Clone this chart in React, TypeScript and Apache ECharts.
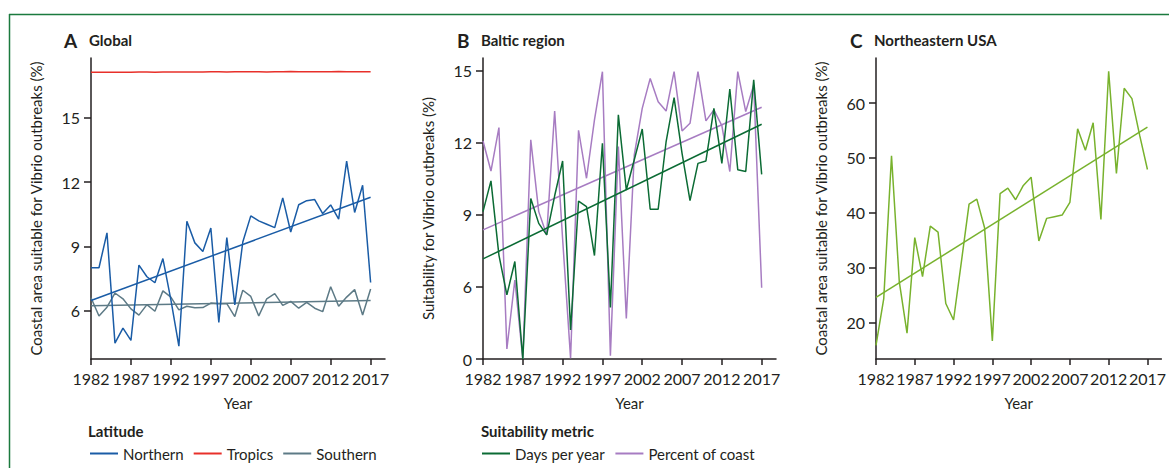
import React, { useEffect, useRef } from "react";
import * as echarts from "echarts";

const years = [1982, 1983, 1984, 1985, 1986, 1987, 1988, 1989, 1990, 1991, 1992, 1993, 1994, 1995, 1996, 1997, 1998, 1999, 2000, 2001, 2002, 2003, 2004, 2005, 2006, 2007, 2008, 2009, 2010, 2011, 2012, 2013, 2014, 2015, 2016, 2017];
const yearTicks = [1982, 1987, 1992, 1997, 2002, 2007, 2012, 2017];

// Panel A: Global
const northern = [8.0, 8.0, 9.63, 4.48, 5.18, 4.61, 8.12, 7.58, 7.3, 8.43, 6.5, 4.34, 10.17, 9.16, 8.76, 9.85, 5.45, 9.41, 6.27, 9.2, 10.42, 10.19, 10.03, 9.87, 11.26, 9.67, 10.94, 11.13, 11.18, 10.53, 10.93, 10.27, 12.98, 10.58, 11.85, 7.31];
const tropics = [17.12, 17.12, 17.13, 17.13, 17.13, 17.13, 17.14, 17.14, 17.13, 17.14, 17.14, 17.14, 17.14, 17.14, 17.14, 17.15, 17.15, 17.14, 17.15, 17.15, 17.15, 17.15, 17.14, 17.15, 17.15, 17.16, 17.15, 17.15, 17.15, 17.15, 17.15, 17.16, 17.15, 17.15, 17.15, 17.15];
const southern = [6.6, 5.75, 6.16, 6.82, 6.55, 6.08, 5.79, 6.28, 5.97, 6.92, 6.63, 6.03, 6.2, 6.13, 6.14, 6.35, 6.32, 6.32, 5.72, 6.95, 6.66, 5.75, 6.55, 6.79, 6.24, 6.43, 6.11, 6.38, 6.11, 5.95, 7.11, 6.2, 6.63, 6.98, 5.79, 7.01];
const northernTrend = [6.47, 11.29];
const southernTrend = [6.22, 6.47];
const aTicks = [6, 9, 12, 15];

// Panel B: Baltic region (axis units as drawn; the bottom tick is labelled "0")
const daysPerYear = [9.14, 10.42, 7.33, 5.67, 7.06, 3.0, 9.69, 8.65, 8.17, 9.8, 11.25, 4.21, 9.58, 9.35, 7.31, 11.99, 5.15, 13.17, 10.04, 11.3, 12.58, 9.24, 9.24, 12.06, 13.89, 11.57, 9.6, 11.15, 11.25, 13.44, 11.15, 14.25, 10.88, 10.81, 14.63, 10.69];
const percentCoast = [12.08, 10.83, 12.64, 3.42, 6.29, 3.0, 12.13, 9.14, 8.17, 13.33, 8.0, 3.03, 12.53, 10.53, 12.96, 14.97, 3.14, 11.85, 4.69, 11.5, 13.44, 14.69, 13.72, 13.33, 14.97, 12.5, 12.82, 14.97, 12.92, 13.38, 12.72, 10.81, 14.97, 13.31, 14.42, 5.97];
const daysTrend = [7.17, 12.78];
const percentTrend = [8.38, 13.49];
const bTicks = [3, 6, 9, 12, 15];
const bTickLabels = ["0", "6", "9", "12", "15"];

// Panel C: Northeastern USA
const northeastUSA = [15.9, 24.4, 50.4, 27.5, 18.1, 35.5, 28.4, 37.6, 36.5, 23.5, 20.5, 31, 41.6, 42.5, 37.3, 16.7, 43.5, 44.5, 42.4, 45.0, 46.5, 34.9, 39.0, 39.3, 39.6, 41.9, 55.3, 51.4, 56.4, 38.8, 65.8, 47.2, 62.7, 60.8, 54.1, 47.9];
const northeastTrend = [24.6, 55.6];
const cTicks = [20, 30, 40, 50, 60];

const FONT = 'Lato, "Open Sans", sans-serif';
const INK = "#231f20";
const C_NORTH = "#1a5ca6";
const C_TROP = "#e8302a";
const C_SOUTH = "#5d7a86";
const C_DAYS = "#0b6b34";
const C_PCT = "#a77cc2";
const C_NE = "#78b22d";

const pairs = (vals: number[]) => vals.map((v, i) => [years[i], v]);
const trend = (ends: number[]) => [[years[0], ends[0]], [years[years.length - 1], ends[1]]];

function xAxis(gridIndex: number) {
  return {
    type: "value",
    gridIndex,
    min: 1982,
    max: 2018.8,
    name: "Year",
    nameLocation: "middle",
    nameGap: 36,
    nameTextStyle: { color: INK, fontSize: 15, fontFamily: FONT },
    axisLine: { lineStyle: { color: INK, width: 1.5 } },
    axisTick: { customValues: yearTicks, length: 6, lineStyle: { color: INK, width: 1.5 } },
    axisLabel: { customValues: yearTicks, color: INK, fontSize: 16, fontFamily: FONT, margin: 11, formatter: (v: number) => String(v) },
    splitLine: { show: false },
  };
}

function yAxis(gridIndex: number, min: number, max: number, ticks: number[], name: string, formatter?: (v: number) => string) {
  return {
    type: "value",
    gridIndex,
    min,
    max,
    name,
    nameLocation: "middle",
    nameGap: 48,
    nameTextStyle: { color: INK, fontSize: 15, fontFamily: FONT },
    axisLine: { show: true, lineStyle: { color: INK, width: 1.5 } },
    axisTick: { show: true, customValues: ticks, length: 7, lineStyle: { color: INK, width: 1.5 } },
    axisLabel: { customValues: ticks, color: INK, fontSize: 16, fontFamily: FONT, margin: 11, formatter: formatter ?? ((v: number) => String(v)) },
    splitLine: { show: false },
  };
}

function line(name: string, data: number[][], color: string, xi: number) {
  return {
    type: "line",
    name,
    xAxisIndex: xi,
    yAxisIndex: xi,
    data,
    symbol: "none",
    lineStyle: { color, width: 1.5 },
    itemStyle: { color },
    silent: true,
  };
}

function title(letter: string, text: string, x: number, x2: number) {
  return [
    { type: "text", x, y: 40, style: { text: letter, fontSize: 19, fontWeight: "bold", fontFamily: FONT, fill: INK, verticalAlign: "middle" } },
    { type: "text", x: x2, y: 40, style: { text, fontSize: 15, fontWeight: "bold", fontFamily: FONT, fill: INK, verticalAlign: "middle" } },
  ];
}

export default function App() {
  const ref = useRef<HTMLDivElement>(null);
  useEffect(() => {
    if (!ref.current) return;
    const chart = echarts.init(ref.current, null, { renderer: "svg" });
    const legendBase = {
      orient: "horizontal",
      top: 446,
      padding: 0,
      icon: "rect",
      itemWidth: 28,
      itemHeight: 2,
      itemGap: 10,
      textStyle: { color: INK, fontSize: 15, fontFamily: FONT },
      selectedMode: false,
    };
    chart.setOption({
      animation: false,
      backgroundColor: "#ffffff",
      textStyle: { fontFamily: FONT },
      grid: [
        { left: 91, top: 58, width: 294, height: 301 },
        { left: 483, top: 58, width: 293, height: 301 },
        { left: 876, top: 58, width: 294, height: 301 },
      ],
      xAxis: [xAxis(0), xAxis(1), xAxis(2)],
      yAxis: [
        yAxis(0, 3.74, 17.79, aTicks, "Coastal area suitable for Vibrio outbreaks (%)"),
        yAxis(1, 3, 15.54, bTicks, "Suitability for Vibrio outbreaks (%)", (v: number) => bTickLabels[bTicks.indexOf(v)] ?? String(v)),
        yAxis(2, 13.4, 68.2, cTicks, "Coastal area suitable for Vibrio outbreaks (%)"),
      ],
      legend: [
        { ...legendBase, left: 90, data: ["Northern", "Tropics", "Southern"] },
        { ...legendBase, left: 482, data: ["Days per year", "Percent of coast"] },
      ],
      series: [
        line("Tropics", pairs(tropics), C_TROP, 0),
        line("Southern", pairs(southern), C_SOUTH, 0),
        line("Southern trend", trend(southernTrend), C_SOUTH, 0),
        line("Northern", pairs(northern), C_NORTH, 0),
        line("Northern trend", trend(northernTrend), C_NORTH, 0),
        line("Percent of coast", pairs(percentCoast), C_PCT, 1),
        line("Percent trend", trend(percentTrend), C_PCT, 1),
        line("Days per year", pairs(daysPerYear), C_DAYS, 1),
        line("Days trend", trend(daysTrend), C_DAYS, 1),
        line("Northeastern USA", pairs(northeastUSA), C_NE, 2),
        line("Northeastern trend", trend(northeastTrend), C_NE, 2),
      ],
      graphic: [
        { type: "line", shape: { x1: 9, y1: 14.5, x2: 1169, y2: 14.5 }, style: { stroke: "#1b7a3e", lineWidth: 1.5 } },
        { type: "line", shape: { x1: 9.5, y1: 14, x2: 9.5, y2: 468 }, style: { stroke: "#1b7a3e", lineWidth: 1.5 } },
        ...title("A", "Global", 64, 89),
        ...title("B", "Baltic region", 457, 481),
        ...title("C", "Northeastern USA", 850, 874),
        { type: "text", x: 88, y: 431, style: { text: "Latitude", fontSize: 15, fontWeight: "bold", fontFamily: FONT, fill: INK, verticalAlign: "middle" } },
        { type: "text", x: 481, y: 431, style: { text: "Suitability metric", fontSize: 15, fontWeight: "bold", fontFamily: FONT, fill: INK, verticalAlign: "middle" } },
      ],
    });
    return () => chart.dispose();
  }, []);
  return <div ref={ref} style={{ position: "fixed", left: 0, top: 0, width: 1169, height: 468, background: "#fff" }} />;
}
